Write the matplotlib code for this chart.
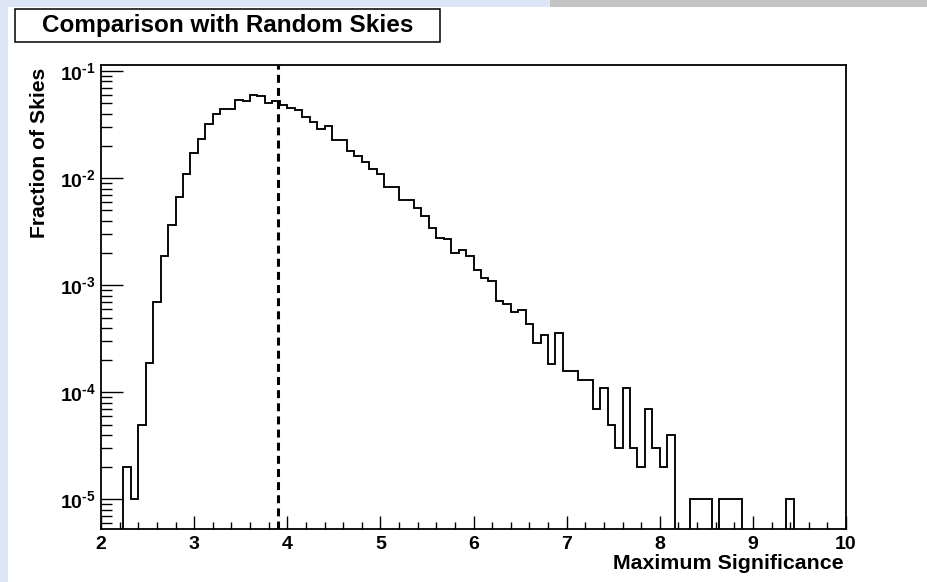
import numpy as np
import matplotlib
matplotlib.use('Agg')
import matplotlib.pyplot as plt
from matplotlib.ticker import FixedLocator, MultipleLocator, LogLocator, NullFormatter, FixedFormatter
from matplotlib.patches import Rectangle

# ---------------- data ----------------
bin_lo = 2.0
bin_hi = 10.0
n_bins = 100
fraction = [
    0, 0, 0, 2e-5, 1e-5, 5e-5, 1.87e-4, 7.0e-4, 1.89e-3, 3.67e-3,      # 2.00 - 2.72
    6.7e-3, 0.0110, 0.0172, 0.0232, 0.0317, 0.0394, 0.0441, 0.0441, 0.0538, 0.0520,  # 2.80 - 3.52
    0.0600, 0.0583, 0.0501, 0.0527, 0.0478, 0.0455, 0.0428, 0.0373, 0.0331, 0.0285,  # 3.60 - 4.32
    0.0306, 0.0226, 0.0226, 0.0180, 0.0160, 0.0142, 0.0123, 0.0110, 0.00826, 0.00826,  # 4.40 - 5.12
    0.00629, 0.00629, 0.00530, 0.00446, 0.00339, 0.00279, 0.00270, 0.00199, 0.00214, 0.00189,  # 5.20 - 5.92
    0.00139, 0.00116, 0.00109, 7.18e-4, 6.68e-4, 5.66e-4, 5.91e-4, 4.35e-4, 2.89e-4, 3.45e-4,  # 6.00 - 6.72
    1.83e-4, 3.58e-4, 1.58e-4, 1.58e-4, 1.31e-4, 1.31e-4, 7e-5, 1.1e-4, 5e-5, 3e-5,  # 6.80 - 7.52
    1.1e-4, 3e-5, 2e-5, 7e-5, 3e-5, 2e-5, 4e-5, 0, 0, 1e-5,  # 7.60 - 8.32
    1e-5, 1e-5, 0, 1e-5, 1e-5, 1e-5, 0, 0, 0, 0,  # 8.40 - 9.12
    0, 0, 1e-5, 0, 0, 0, 0, 0, 0, 0,  # 9.20 - 9.92
]
median_sig = 3.9
x_ticks = [2, 3, 4, 5, 6, 7, 8, 9, 10]
x_tick_labels = ['2', '3', '4', '5', '6', '7', '8', '9', '10']
y_ticks = [1e-5, 1e-4, 1e-3, 1e-2, 1e-1]
y_tick_labels = ['$10^{\u20105}$', '$10^{\u20104}$', '$10^{\u20103}$',
                 '$10^{\u20102}$', '$10^{\u20101}$']
title = 'Comparison with Random Skies'
x_title = 'Maximum Significance'
y_title = 'Fraction of Skies'

# ---------------- style ----------------
plt.rcParams['font.family'] = ['Liberation Sans', 'DejaVu Sans']
plt.rcParams['font.weight'] = 'bold'
plt.rcParams['mathtext.fontset'] = 'custom'
plt.rcParams['mathtext.rm'] = 'Liberation Sans:bold'
plt.rcParams['mathtext.it'] = 'Liberation Sans:bold:italic'
plt.rcParams['mathtext.bf'] = 'Liberation Sans:bold'
plt.rcParams['mathtext.sf'] = 'Liberation Sans:bold'

W, H = 927, 582
fig = plt.figure(figsize=(W / 100, H / 100), dpi=100)
fig.patch.set_facecolor('white')

# slide background strips
fig.add_artist(Rectangle((0, 0), 8.3 / W, 1, transform=fig.transFigure,
                         facecolor='#dce6f4', edgecolor='none', zorder=0))
fig.add_artist(Rectangle((0, 1 - 6.7 / H), 550 / W, 6.7 / H, transform=fig.transFigure,
                         facecolor='#dce6f4', edgecolor='none', zorder=0))
fig.add_artist(Rectangle((550 / W, 1 - 6.7 / H), 1 - 550 / W, 6.7 / H, transform=fig.transFigure,
                         facecolor='#c4c4c4', edgecolor='none', zorder=0))

ax_l, ax_r, ax_t, ax_b = 101, 846, 65, 529.3
ax = fig.add_axes([ax_l / W, 1 - ax_b / H, (ax_r - ax_l) / W, (ax_b - ax_t) / H])

edges = np.linspace(bin_lo, bin_hi, n_bins + 1)
vals = np.array(fraction, dtype=float)
floor = 1e-9
ax.stairs(np.where(vals > 0, vals, floor), edges, baseline=floor,
          color='black', lw=1.35)
ax.axvline(median_sig, color='black', lw=2.2, dashes=(2.6, 1.7))

ax.set_yscale('log')
ax.set_xlim(bin_lo, bin_hi)
ax.set_ylim(5.27e-6, 0.1138)

ax.xaxis.set_major_locator(FixedLocator(x_ticks))
ax.xaxis.set_major_formatter(FixedFormatter(x_tick_labels))
ax.xaxis.set_minor_locator(MultipleLocator(0.2))
ax.yaxis.set_major_locator(FixedLocator(y_ticks))
ax.yaxis.set_major_formatter(FixedFormatter(y_tick_labels))
ax.yaxis.set_minor_locator(LogLocator(base=10, subs=np.arange(2, 10), numticks=50))
ax.yaxis.set_minor_formatter(NullFormatter())

ax.tick_params(which='both', direction='in', top=False, right=False, color='black')
ax.tick_params(axis='x', which='major', length=9.6, width=1.0, labelsize=14, pad=5)
ax.tick_params(axis='x', which='minor', length=4.8, width=1.0)
ax.tick_params(axis='y', which='major', length=15.8, width=1.0, labelsize=14, pad=4)
ax.tick_params(axis='y', which='minor', length=7.9, width=1.0)
for lab in ax.get_xticklabels() + ax.get_yticklabels():
    lab.set_fontweight('bold')
for sp in ax.spines.values():
    sp.set_linewidth(1.3)
    sp.set_color('black')

# axis titles
fig.text(843.5 / W, 1 - 569.3 / H, x_title, ha='right', va='baseline',
         fontsize=15.4, fontweight='bold')
fig.text(39.5 / W, 1 - 68 / H, y_title, ha='center', va='top', rotation=90,
         fontsize=15.2, fontweight='bold')

# title box
fig.add_artist(Rectangle((15.3 / W, 1 - 42.3 / H), (440 - 15.3) / W, 33.3 / H,
                         transform=fig.transFigure, facecolor='white',
                         edgecolor='black', lw=1.1, zorder=2))
fig.text(228 / W, 1 - 31.7 / H, title, ha='center', va='baseline',
         fontsize=17.5, fontweight='bold', zorder=3)

fig.savefig('out.png', dpi=100, facecolor=fig.get_facecolor())
